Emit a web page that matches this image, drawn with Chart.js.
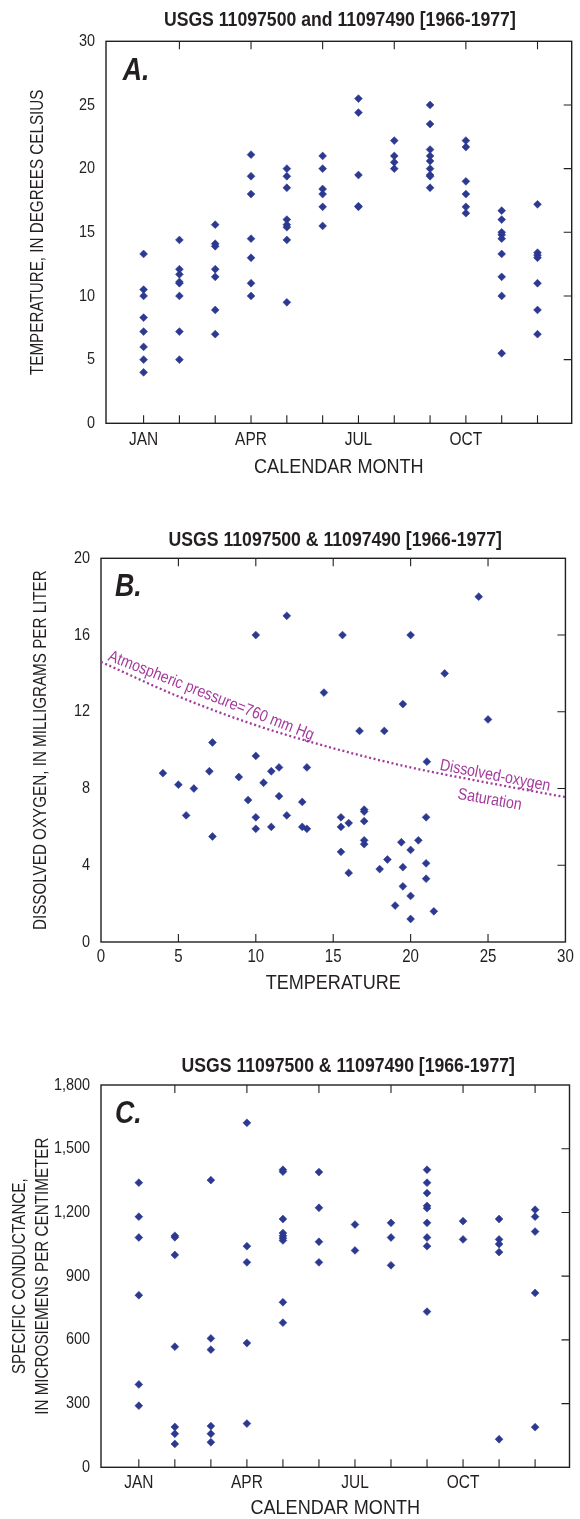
<!DOCTYPE html>
<html><head><meta charset="utf-8">
<script src="https://cdn.jsdelivr.net/npm/chart.js@4.4.0/dist/chart.umd.min.js"></script>
<style>
html,body{margin:0;padding:0;background:#fff;}
body{width:580px;height:1519px;position:relative;overflow:hidden;}
.panel{position:absolute;left:0;width:580px;}
</style></head><body>
<div class="panel" style="top:0;height:495px"><canvas id="cA"></canvas></div>
<div class="panel" style="top:500px;height:510px"><canvas id="cB"></canvas></div>
<div class="panel" style="top:1020px;height:499px"><canvas id="cC"></canvas></div>
<script>
// ---------- DATA ----------
const monthNames = ['JAN','FEB','MAR','APR','MAY','JUN','JUL','AUG','SEP','OCT','NOV','DEC'];
const labeledMonths = [1, 4, 7, 10];
const allMonths = [1,2,3,4,5,6,7,8,9,10,11,12];
const everyOtherMonth = [2,4,6,8,10,12];

// Panel A: water temperature (deg C) by calendar month
const temperatureByMonth = [
  [13.3, 10.5, 10.0, 8.3, 7.2, 6.0, 5.0, 4.0],
  [14.4, 12.1, 11.7, 11.1, 11.0, 10.0, 7.2, 5.0],
  [15.6, 14.1, 13.9, 12.1, 11.5, 8.9, 7.0],
  [21.1, 19.4, 18.0, 14.5, 13.0, 11.0, 10.0],
  [20.0, 19.4, 18.5, 16.0, 15.6, 15.4, 14.4, 9.5],
  [21.0, 20.0, 18.4, 18.0, 17.0, 15.5],
  [25.5, 24.4, 19.5, 17.0, 17.05],
  [22.2, 21.0, 20.5, 20.0],
  [25.0, 23.5, 21.5, 21.0, 20.6, 20.0, 19.5, 19.4, 18.5],
  [22.2, 21.7, 19.0, 18.0, 17.0, 16.5],
  [16.7, 16.0, 15.0, 14.8, 14.5, 13.3, 11.5, 10.0, 5.5],
  [17.2, 13.4, 13.2, 13.0, 11.0, 8.9, 7.0]
];
const tempTicks = [0, 5, 10, 15, 20, 25, 30];

// Panel B: dissolved oxygen (mg/L) vs temperature (deg C)
const doTemperature = [4.0, 5.0, 6.0, 5.5, 7.0, 7.2, 7.2, 8.9, 9.5, 10.0, 10.0, 10.0, 10.0, 10.5, 11.0, 11.0, 11.5, 11.5, 12.0, 12.0,
  13.0, 13.0, 13.3, 13.3, 14.4, 15.5, 15.5, 15.5, 15.6, 16.0, 16.0, 16.7, 17.0, 17.0, 17.0, 17.0, 17.0, 18.0, 18.3, 18.5,
  19.0, 19.4, 19.5, 19.5, 19.5, 20.0, 20.0, 20.0, 20.0, 20.5, 21.0, 21.0, 21.0, 21.05, 21.5, 22.2, 24.4, 25.0];
const doValue = [8.8, 8.2, 8.0, 6.6, 8.9, 10.4, 5.5, 8.6, 7.4, 9.7, 6.5, 5.9, 16.0, 8.3, 8.9, 6.0, 9.1, 7.6, 6.6, 17.0,
  7.3, 6.0, 5.9, 9.1, 13.0, 6.5, 6.0, 4.7, 16.0, 6.2, 3.6, 11.0, 6.9, 6.8, 6.3, 5.3, 5.1, 3.8, 11.0, 4.3,
  1.9, 5.2, 3.9, 2.9, 12.4, 4.8, 2.4, 1.2, 16.0, 5.3, 4.1, 3.3, 6.5, 9.4, 1.6, 14.0, 18.0, 11.6];
// Dissolved-oxygen saturation curve at 760 mm Hg
const satTemperature = [0, 5, 10, 15, 20, 25, 30];
const satOxygen = [14.6, 12.8, 11.3, 10.1, 9.1, 8.3, 7.55];
const doXTicks = [0, 5, 10, 15, 20, 25, 30];
const doYTicks = [0, 4, 8, 12, 16, 20];

// Panel C: specific conductance (microsiemens/cm) by calendar month
const conductanceByMonth = [
  [1340, 1180, 1082, 810, 390, 290],
  [1090, 1083, 1000, 568, 190, 158, 110],
  [1352, 607, 554, 194, 158, 118],
  [1622, 1041, 965, 585, 206],
  [1401, 1392, 1169, 1103, 1090, 1079, 1068, 777, 681],
  [1390, 1222, 1062, 965],
  [1143, 1021],
  [1151, 1082, 951],
  [1401, 1340, 1291, 1231, 1220, 1151, 1082, 1041, 733],
  [1159, 1073],
  [1169, 1073, 1051, 1013, 132],
  [1213, 1180, 1110, 821, 189]
];
const condTicks = [0, 300, 600, 900, 1200, 1500, 1800];

// ---------- STYLE ----------
const FONT = "'Liberation Sans', Arial, sans-serif";
const INK = '#231f20';
const MARK = '#2b3990';
const CURVE = '#a4399c';
const TICK_LEN = 8;
const NARROW = 0.86; // horizontal condensing of all canvas text (condensed sans look)

// condensed text rendering: real text, drawn horizontally compressed about its anchor
(function () {
  const proto = CanvasRenderingContext2D.prototype;
  const origFill = proto.fillText, origMeasure = proto.measureText;
  proto.fillText = function (text, x, y, maxWidth) {
    this.save();
    this.translate(x, y);
    this.scale(NARROW, 1);
    if (maxWidth !== undefined && maxWidth !== null && isFinite(maxWidth)) origFill.call(this, text, 0, 0, maxWidth / NARROW);
    else origFill.call(this, text, 0, 0);
    this.restore();
  };
  proto.measureText = function (text) {
    const m = origMeasure.call(this, text);
    return {
      width: m.width * NARROW,
      actualBoundingBoxAscent: m.actualBoundingBoxAscent,
      actualBoundingBoxDescent: m.actualBoundingBoxDescent,
      actualBoundingBoxLeft: m.actualBoundingBoxLeft * NARROW,
      actualBoundingBoxRight: m.actualBoundingBoxRight * NARROW,
      fontBoundingBoxAscent: m.fontBoundingBoxAscent,
      fontBoundingBoxDescent: m.fontBoundingBoxDescent
    };
  };
})();

Chart.defaults.font.family = FONT;
Chart.defaults.color = INK;

function byMonth(rows) {
  const pts = [];
  rows.forEach((vals, i) => vals.forEach(v => pts.push({x: i + 1, y: v})));
  return pts;
}

function makeDecor(cfg) {
  return {
    id: 'decor',
    beforeDatasetsDraw(chart) {
      const {ctx, chartArea: a} = chart;
      const xs = chart.scales.x, ys = chart.scales.y;
      ctx.save();
      ctx.strokeStyle = INK;
      ctx.lineWidth = 1.1;
      ctx.beginPath();
      (cfg.topTicks || []).forEach(v => { const p = xs.getPixelForValue(v); ctx.moveTo(p, a.top); ctx.lineTo(p, a.top + TICK_LEN); });
      (cfg.bottomTicks || []).forEach(v => { const p = xs.getPixelForValue(v); ctx.moveTo(p, a.bottom); ctx.lineTo(p, a.bottom - TICK_LEN); });
      (cfg.rightTicks || []).forEach(v => { const p = ys.getPixelForValue(v); ctx.moveTo(a.right, p); ctx.lineTo(a.right - TICK_LEN, p); });
      ctx.stroke();
      ctx.lineWidth = 1.4;
      ctx.strokeRect(a.left, a.top, a.right - a.left, a.bottom - a.top);
      ctx.restore();
    },
    afterDraw(chart) {
      const {ctx, chartArea: a} = chart;
      ctx.save();
      ctx.fillStyle = INK;
      ctx.textAlign = 'center';
      ctx.textBaseline = 'middle';
      ctx.font = 'bold 20.5px ' + FONT;
      ctx.fillText(cfg.title, (a.left + a.right) / 2 + cfg.titleDX, cfg.titleY);
      ctx.textAlign = 'left';
      ctx.textBaseline = 'alphabetic';
      ctx.font = 'italic bold 31px ' + FONT;
      ctx.fillText(cfg.letter, a.left + cfg.letterDX, a.top + cfg.letterDY);
      (cfg.notes || []).forEach(n => {
        const px = chart.scales.x.getPixelForValue(n.x);
        const py = chart.scales.y.getPixelForValue(n.y);
        ctx.save();
        ctx.translate(px, py);
        ctx.rotate(n.angle * Math.PI / 180);
        ctx.fillStyle = CURVE;
        ctx.font = '16.5px ' + FONT;
        ctx.fillText(n.text, 0, 0);
        ctx.restore();
      });
      ctx.restore();
    }
  };
}

function baseScales(o) {
  return {
    x: {
      type: 'linear', min: o.xMin, max: o.xMax,
      afterBuildTicks: s => { s.ticks = o.xTicks.map(v => ({value: v})); },
      afterFit: s => { s.height = o.xHeight; },
      grid: {display: false, drawTicks: false}, border: {display: false},
      ticks: {autoSkip: false, maxRotation: 0, padding: o.xTickPad, color: INK,
        font: {size: o.xTickSize, family: FONT, lineHeight: 1}, callback: o.xFmt},
      title: {display: true, text: o.xTitle, color: INK,
        font: {size: 21, family: FONT, lineHeight: 1}, padding: {top: 0, bottom: o.xTitlePad}}
    },
    y: {
      type: 'linear', min: o.yMin, max: o.yMax,
      afterBuildTicks: s => { s.ticks = o.yTicks.map(v => ({value: v})); },
      afterFit: s => { s.width = o.yWidth; },
      grid: {display: false, drawTicks: false}, border: {display: false},
      ticks: {autoSkip: false, padding: 11, color: INK,
        font: {size: 16.8, family: FONT, lineHeight: 1}, callback: o.yFmt},
      title: {display: true, text: o.yTitle, color: INK,
        font: {size: 17.7, family: FONT, lineHeight: o.yTitleLH || 1}, padding: {top: o.yTitlePad, bottom: 0}}
    }
  };
}

const commonOpts = (pad, scales) => ({
  responsive: true, maintainAspectRatio: false, animation: false, events: [],
  layout: {padding: pad},
  plugins: {legend: {display: false}, tooltip: {enabled: false}, title: {display: false}},
  scales
});

const markStyle = {
  pointStyle: 'rectRot', pointRadius: 3.9, pointBackgroundColor: MARK,
  pointBorderColor: MARK, pointBorderWidth: 0.6, showLine: false
};

// ---------- Panel A ----------
new Chart(document.getElementById('cA'), {
  type: 'scatter',
  data: {datasets: [Object.assign({data: byMonth(temperatureByMonth)}, markStyle)]},
  options: commonOpts({top: 41.3, left: 0, right: 8.3, bottom: 11.7}, baseScales({
    xMin: -0.05, xMax: 12.955, xTicks: labeledMonths, xHeight: 60, xTickPad: 7.5, xTickSize: 18,
    xFmt: v => monthNames[v - 1], xTitle: 'CALENDAR MONTH', xTitlePad: 5.8,
    yMin: 0, yMax: 30, yTicks: tempTicks, yWidth: 106, yFmt: v => String(v),
    yTitle: 'TEMPERATURE, IN DEGREES CELSIUS', yTitlePad: 29.6
  })),
  plugins: [makeDecor({
    title: 'USGS 11097500 and 11097490 [1966-1977]', titleDX: 1, titleY: 20,
    letter: 'A.', letterDX: 16.7, letterDY: 38.7,
    topTicks: everyOtherMonth, bottomTicks: allMonths, rightTicks: [5, 10, 15, 20, 25]
  })]
});

// ---------- Panel B ----------
new Chart(document.getElementById('cB'), {
  type: 'scatter',
  data: {datasets: [
    Object.assign({data: doTemperature.map((t, i) => ({x: t, y: doValue[i]}))}, markStyle),
    {type: 'line', data: satTemperature.map((t, i) => ({x: t, y: satOxygen[i]})),
     borderColor: CURVE, borderWidth: 2.3, borderDash: [2, 2.6], pointRadius: 0,
     cubicInterpolationMode: 'monotone', fill: false, showLine: true}
  ]},
  options: commonOpts({top: 58.3, left: 0, right: 10.5, bottom: 8}, baseScales({
    xMin: 0, xMax: 30, xTicks: doXTicks, xHeight: 60, xTickPad: 6.2, xTickSize: 17.5,
    xFmt: v => String(v), xTitle: 'TEMPERATURE', xTitlePad: 8.5,
    yMin: 0, yMax: 20, yTicks: doYTicks, yWidth: 101, yFmt: v => String(v),
    yTitle: 'DISSOLVED OXYGEN, IN MILLIGRAMS PER LITER', yTitlePad: 31.8
  })),
  plugins: [makeDecor({
    title: 'USGS 11097500 & 11097490 [1966-1977]', titleDX: 2, titleY: 40,
    letter: 'B.', letterDX: 14, letterDY: 38,
    topTicks: [5, 10, 15, 20, 25], bottomTicks: [5, 10, 15, 20, 25], rightTicks: [4, 8, 12, 16],
    notes: [
      {text: 'Atmospheric pressure=760 mm Hg', x: 0.4, y: 14.7, angle: 21.5},
      {text: 'Dissolved-oxygen', x: 21.85, y: 8.98, angle: 11},
      {text: 'Saturation', x: 23.0, y: 7.47, angle: 10}
    ]
  })]
});

// ---------- Panel C ----------
new Chart(document.getElementById('cC'), {
  type: 'scatter',
  data: {datasets: [Object.assign({data: byMonth(conductanceByMonth)}, markStyle)]},
  options: commonOpts({top: 65, left: 0, right: 10.5, bottom: 0}, baseScales({
    xMin: -0.05, xMax: 12.955, xTicks: labeledMonths, xHeight: 51.7, xTickPad: 7.2, xTickSize: 18,
    xFmt: v => monthNames[v - 1], xTitle: 'CALENDAR MONTH', xTitlePad: 0,
    yMin: 0, yMax: 1800, yTicks: condTicks, yWidth: 101, yFmt: v => v.toLocaleString('en-US'),
    yTitle: ['SPECIFIC CONDUCTANCE,', 'IN MICROSIEMENS PER CENTIMETER'], yTitlePad: 9.2, yTitleLH: 1.26
  })),
  plugins: [makeDecor({
    title: 'USGS 11097500 & 11097490 [1966-1977]', titleDX: 13, titleY: 46,
    letter: 'C.', letterDX: 14, letterDY: 38,
    topTicks: everyOtherMonth, bottomTicks: allMonths, rightTicks: [300, 600, 900, 1200, 1500]
  })]
});
</script>
</body></html>
